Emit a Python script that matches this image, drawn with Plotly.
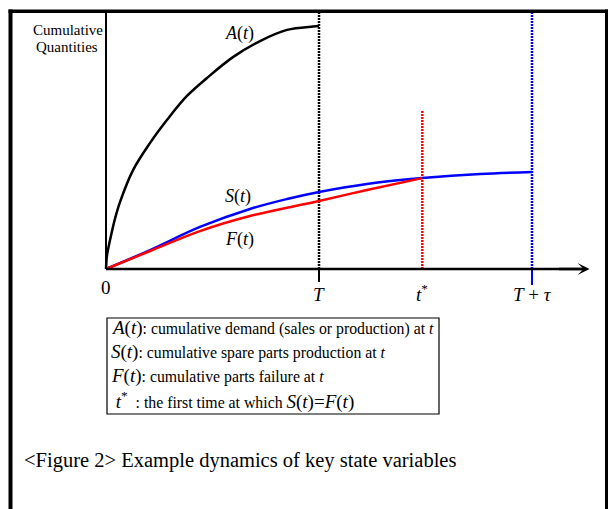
import plotly.graph_objects as go

# ---------------- data (time units: T = 10, quantity units: A(T) = 100) ----------------
t_A = [0, 0.05, 0.19, 0.42, 0.66, 1.27, 2.07, 2.86, 3.80, 4.74, 5.96, 7.23, 8.50, 9.72, 10]
A_vals = [0, 5.8, 11.9, 20.6, 27.6, 40.7, 51.9, 61.3, 71.2, 78.6, 87.2, 93.8, 98.4, 99.8, 100]

t_S = [0, 2.07, 4.41, 6.76, 8.50, 10, 12.25, 14.85, 17.56, 20]
S_vals = [0, 7.8, 17.3, 24.7, 28.8, 31.7, 35.0, 37.4, 39.1, 39.9]

t_F = [0, 2.07, 4.41, 6.76, 10, 12.25, 14.85]
F_vals = [0, 7.4, 15.6, 21.8, 28.0, 32.5, 37.4]

T = 10
t_star = 14.85
T_tau = 20
x_arrow_end = 22.7
y_axis_top = 105.3
t_star_line_top = 65.4
tick_T_low = -5.3
tick_Ttau_low = -6.6

tick_vals = [0, T, t_star, T_tau]
tick_labels = ["0", "<i>T</i>", "<i>t</i><sup>*</sup>", "<i>T</i> + <i>τ</i>"]

legend_rows = [
    ('<span style="font-size:19px"><i>A</i>(<i>t</i>)</span>: cumulative demand (sales or production) at <i>t</i>'),
    ('<span style="font-size:19px"><i>S</i>(<i>t</i>)</span>: cumulative spare parts production at <i>t</i>'),
    ('<span style="font-size:19px"><i>F</i>(<i>t</i>)</span>: cumulative parts failure at <i>t</i>'),
    ('<span style="font-size:19px"> <i>t</i><sup>*</sup></span>  : the first time at which '
     '<span style="font-size:19px"><i>S</i>(<i>t</i>)=<i>F</i>(<i>t</i>)</span>'),
]
caption = "&lt;Figure 2&gt; Example dynamics of key state variables"

# ---------------- layout geometry ----------------
W, H = 609, 509
X0, SX = 106.0, 21.3   # origin pixel x, px per time unit
Y0, SY = 269.0, 2.43   # origin pixel y, px per quantity unit

def px2x(px):
    return (px - X0) / SX

def py2y(py):
    return (Y0 - py) / SY

def pxp(px):
    return px / W

def pyp(py):
    return 1 - py / H

FONT = "Liberation Serif"
DOT = "2px,1px"

fig = go.Figure()

# dotted verticals
fig.add_trace(go.Scatter(x=[T, T], y=[0, y_axis_top], mode="lines",
                         line=dict(color="black", width=2.5, dash=DOT), hoverinfo="skip"))
fig.add_trace(go.Scatter(x=[t_star, t_star], y=[0, t_star_line_top], mode="lines",
                         line=dict(color="#ff0000", width=2.5, dash=DOT), hoverinfo="skip"))
fig.add_trace(go.Scatter(x=[T_tau, T_tau], y=[0, y_axis_top], mode="lines",
                         line=dict(color="#0000ff", width=2.5, dash=DOT), hoverinfo="skip"))
# ticks below axis
fig.add_trace(go.Scatter(x=[T, T], y=[0, tick_T_low], mode="lines",
                         line=dict(color="black", width=2), hoverinfo="skip"))
fig.add_trace(go.Scatter(x=[T_tau, T_tau], y=[0, tick_Ttau_low], mode="lines",
                         line=dict(color="#0000ff", width=2), hoverinfo="skip"))

# curves
fig.add_trace(go.Scatter(x=t_A, y=A_vals, mode="lines",
                         line=dict(color="black", width=2.5, shape="spline", smoothing=1.0)))
fig.add_trace(go.Scatter(x=t_S, y=S_vals, mode="lines",
                         line=dict(color="#0000ff", width=2.5, shape="spline", smoothing=1.0)))
fig.add_trace(go.Scatter(x=t_F, y=F_vals, mode="lines",
                         line=dict(color="#ff0000", width=2.5, shape="spline", smoothing=1.0)))

# axes lines
fig.add_trace(go.Scatter(x=[0, 0], y=[0, y_axis_top], mode="lines",
                         line=dict(color="black", width=2), hoverinfo="skip"))
fig.add_trace(go.Scatter(x=[0, x_arrow_end - 0.3], y=[0, 0], mode="lines",
                         line=dict(color="black", width=2.5), hoverinfo="skip"))

annotations = []
# arrow head
annotations.append(dict(x=x_arrow_end, y=0, ax=x_arrow_end - 1.5, ay=0,
                        xref="x", yref="y", axref="x", ayref="y", text="",
                        showarrow=True, arrowhead=3, arrowsize=0.8, arrowwidth=2.5,
                        arrowcolor="black"))
# tick labels
label_py = [287, 294, 293, 294]
for v, lab, lp in zip(tick_vals, tick_labels, label_py):
    annotations.append(dict(x=v, y=py2y(lp), xref="x", yref="y", text=lab,
                            showarrow=False, xanchor="center", yanchor="middle",
                            font=dict(family=FONT, size=19, color="black")))
# y-axis title
annotations.append(dict(x=pxp(68), y=pyp(30), xref="paper", yref="paper", text="Cumulative",
                        showarrow=False, xanchor="center", yanchor="middle",
                        font=dict(family=FONT, size=15, color="black")))
annotations.append(dict(x=pxp(67), y=pyp(47), xref="paper", yref="paper", text="Quantities",
                        showarrow=False, xanchor="center", yanchor="middle",
                        font=dict(family=FONT, size=15, color="black")))
# curve labels
for txt, cx, cy in [("<i>A</i>(<i>t</i>)", 239, 34), ("<i>S</i>(<i>t</i>)", 238, 197),
                    ("<i>F</i>(<i>t</i>)", 239, 239)]:
    annotations.append(dict(x=pxp(cx), y=pyp(cy), xref="paper", yref="paper", text=txt,
                            showarrow=False, xanchor="center", yanchor="middle",
                            font=dict(family=FONT, size=18, color="black")))
# legend rows
row_py = [328, 352, 376, 400]
for txt, rp in zip(legend_rows, row_py):
    annotations.append(dict(x=pxp(109), y=pyp(rp), xref="paper", yref="paper", text=txt,
                            showarrow=False, xanchor="left", yanchor="middle",
                            font=dict(family=FONT, size=15.8, color="black")))
# caption
annotations.append(dict(x=pxp(22), y=pyp(460), xref="paper", yref="paper", text=caption,
                        showarrow=False, xanchor="left", yanchor="middle",
                        font=dict(family=FONT, size=20.5, color="black")))

shapes = [
    # legend box
    dict(type="rect", xref="paper", yref="paper", x0=pxp(107), x1=pxp(439),
         y0=pyp(414), y1=pyp(318), line=dict(color="black", width=1.2)),
    # outer frame (left, top, right)
    dict(type="line", xref="paper", yref="paper", x0=pxp(10.5), x1=pxp(10.5),
         y0=pyp(9.5), y1=pyp(520), line=dict(color="black", width=4)),
    dict(type="line", xref="paper", yref="paper", x0=pxp(8.5), x1=pxp(608),
         y0=pyp(11.3), y1=pyp(11.3), line=dict(color="black", width=3.6)),
    dict(type="line", xref="paper", yref="paper", x0=pxp(606.5), x1=pxp(606.5),
         y0=pyp(9.5), y1=pyp(520), line=dict(color="black", width=3)),
]

fig.update_layout(
    width=W, height=H,
    margin=dict(l=0, r=0, t=0, b=0),
    paper_bgcolor="white", plot_bgcolor="white",
    showlegend=False,
    xaxis=dict(range=[px2x(0), px2x(W)], visible=False, fixedrange=True),
    yaxis=dict(range=[py2y(H), py2y(0)], visible=False, fixedrange=True),
    annotations=annotations,
    shapes=shapes,
)

fig.write_html("out.html")
